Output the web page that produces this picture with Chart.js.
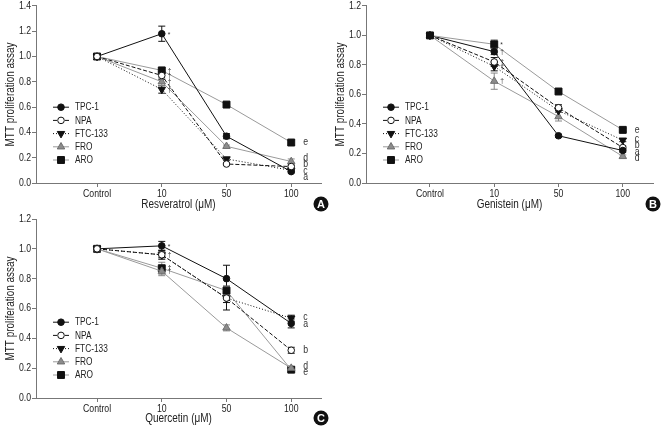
<!DOCTYPE html>
<html><head><meta charset="utf-8">
<script src="https://cdn.jsdelivr.net/npm/chart.js@4/dist/chart.umd.min.js"></script>
<style>
html,body{margin:0;padding:0;background:#fff;}
body{width:661px;height:426px;position:relative;overflow:hidden;}
.p{position:absolute;}
#pa{left:0;top:0;}
#pb{left:330px;top:0;}
#pc{left:0;top:212px;}
</style></head><body>
<div class="p" id="pa"><canvas id="ca" width="330" height="212"></canvas></div>
<div class="p" id="pb"><canvas id="cb" width="331" height="212"></canvas></div>
<div class="p" id="pc"><canvas id="cc" width="330" height="214"></canvas></div>
<script>
// ---------- data ----------
const categories = ['Control', '10', '50', '100'];
const seriesNames = ['TPC-1', 'NPA', 'FTC-133', 'FRO', 'ARO'];
const groupLetters = ['a', 'b', 'c', 'd', 'e'];
const yTicksA = [0.0, 0.2, 0.4, 0.6, 0.8, 1.0, 1.2, 1.4];
const yTicksBC = [0.0, 0.2, 0.4, 0.6, 0.8, 1.0, 1.2];

// A: Resveratrol
const resTPC1   = [1.00, 1.18, 0.37, 0.09];
const resNPA    = [1.00, 0.85, 0.15, 0.13];
const resFTC133 = [1.00, 0.74, 0.19, 0.10];
const resFRO    = [1.00, 0.80, 0.29, 0.17];
const resARO    = [1.00, 0.89, 0.62, 0.32];
const resTPC1Err   = [0, 0.06, 0.02, 0.01];
const resNPAErr    = [0, 0.03, 0.01, 0.01];
const resFTC133Err = [0, 0.03, 0.01, 0.01];
const resFROErr    = [0, 0.03, 0.01, 0.02];
const resAROErr    = [0, 0.02, 0.01, 0.02];
const resMarks10   = ['*', '†', '†', '†', '†'];

// B: Genistein
const genTPC1   = [1.00, 0.89, 0.32, 0.22];
const genNPA    = [1.00, 0.82, 0.51, 0.24];
const genFTC133 = [1.00, 0.79, 0.49, 0.29];
const genFRO    = [1.00, 0.69, 0.45, 0.18];
const genARO    = [1.00, 0.94, 0.62, 0.36];
const genTPC1Err   = [0, 0.02, 0.01, 0.01];
const genNPAErr    = [0, 0.03, 0.02, 0.01];
const genFTC133Err = [0, 0.03, 0.01, 0.01];
const genFROErr    = [0, 0.055, 0.03, 0.01];
const genAROErr    = [0, 0.03, 0.01, 0.01];
const genMarks10   = ['†', '†', '†', '†', '*'];

// C: Quercetin
const queTPC1   = [1.00, 1.02, 0.80, 0.50];
const queNPA    = [1.00, 0.96, 0.67, 0.32];
const queFTC133 = [1.00, 0.96, 0.67, 0.535];
const queFRO    = [1.00, 0.85, 0.47, 0.20];
const queARO    = [1.00, 0.87, 0.72, 0.19];
const queTPC1Err   = [0, 0.03, 0.09, 0.03];
const queNPAErr    = [0, 0.02, 0.03, 0.02];
const queFTC133Err = [0, 0.03, 0.08, 0.02];
const queFROErr    = [0, 0.03, 0.02, 0.01];
const queAROErr    = [0, 0.04, 0.03, 0.01];
const queMarks10   = ['*', '', '†', '†', '†'];

// ---------- styles ----------
const FONT = '"Liberation Sans",Arial,"DejaVu Sans",sans-serif';
const SQUEEZE = 0.83;
const BLACK = '#111', GRAY = '#9a9a9a', AXIS = '#777', TEXT = '#222';
const styles = [
  {line: BLACK, dash: [],     ps: 'circle',   r: 3.3, fill: BLACK,   stroke: BLACK,   rot: 0},
  {line: BLACK, dash: [4, 2], ps: 'circle',   r: 3.3, fill: '#fff',  stroke: BLACK,   rot: 0},
  {line: BLACK, dash: [1, 2], ps: 'triangle', r: 4.3, fill: BLACK,   stroke: BLACK,   rot: 180},
  {line: GRAY,  dash: [],     ps: 'triangle', r: 4.3, fill: '#8c8c8c', stroke: '#6e6e6e', rot: 0},
  {line: GRAY,  dash: [],     ps: 'rect',     r: 4.9, fill: BLACK,   stroke: BLACK,   rot: 0}
];

// narrow (condensed) text rendering: real text, horizontally compressed
function condense(canvas) {
  const ctx = canvas.getContext('2d');
  const orig = ctx.fillText.bind(ctx);
  ctx._plainFillText = orig;
  ctx.fillText = function (t, x, y) {
    this.save();
    this.translate(x, y);
    this.scale(SQUEEZE, 1);
    orig(t, 0, 0);
    this.restore();
  };
}

function drawMarker(ctx, st, x, y) {
  ctx.save();
  ctx.setLineDash([]);
  ctx.fillStyle = st.fill; ctx.strokeStyle = st.stroke; ctx.lineWidth = 1;
  ctx.beginPath();
  if (st.ps === 'circle') {
    ctx.arc(x, y, st.r, 0, Math.PI * 2);
  } else if (st.ps === 'triangle') {
    let a = st.rot * Math.PI / 180;
    for (let k = 0; k < 3; k++) {
      const px = x + Math.sin(a) * st.r, py = y - Math.cos(a) * st.r;
      if (k === 0) ctx.moveTo(px, py); else ctx.lineTo(px, py);
      a += 2 * Math.PI / 3;
    }
    ctx.closePath();
  } else {
    const s = Math.SQRT1_2 * st.r;
    ctx.rect(x - s, y - s, 2 * s, 2 * s);
  }
  ctx.fill(); ctx.stroke();
  ctx.restore();
}

function extrasPlugin(cfg) {
  return {
    id: 'extras',
    beforeDatasetsDraw(chart) {
      const ctx = chart.ctx, xs = chart.scales.x, ys = chart.scales.y;
      ctx.save();
      ctx.lineWidth = 1;
      cfg.errors.forEach((errs, i) => {
        ctx.strokeStyle = styles[i].line === GRAY ? '#888' : BLACK;
        errs.forEach((e, j) => {
          if (!e) return;
          const v = cfg.series[i][j];
          const x = xs.getPixelForValue(j + 1);
          const y1 = ys.getPixelForValue(v + e), y2 = ys.getPixelForValue(v - e);
          ctx.beginPath();
          ctx.moveTo(x, y1); ctx.lineTo(x, y2);
          ctx.moveTo(x - 3.5, y1); ctx.lineTo(x + 3.5, y1);
          ctx.moveTo(x - 3.5, y2); ctx.lineTo(x + 3.5, y2);
          ctx.stroke();
        });
      });
      ctx.restore();
    },
    afterDraw(chart) {
      const ctx = chart.ctx, xs = chart.scales.x, ys = chart.scales.y, ca = chart.chartArea;
      ctx.save();
      // marks at 10 uM
      ctx.fillStyle = '#333';
      ctx.font = '8px ' + FONT;
      ctx.textAlign = 'left'; ctx.textBaseline = 'middle';
      cfg.marks.forEach((m, i) => {
        if (!m) return;
        const x = xs.getPixelForValue(2) + 6;
        const y = ys.getPixelForValue(cfg.series[i][1]) + (m === '*' ? 1 : 0);
        ctx.fillText(m, x, y);
      });
      // group letters at last dose, de-overlapped
      const last = categories.length - 1;
      let items = cfg.series.map((s, i) => ({i, y0: ys.getPixelForValue(s[last])}));
      items.sort((a, b) => a.y0 - b.y0);
      const gap = 6.4;
      let clusters = items.map(it => ({members: [it], mean: it.y0}));
      let changed = true;
      const pos = c => { const n = c.members.length; return [c.mean - (n - 1) * gap / 2, c.mean + (n - 1) * gap / 2]; };
      while (changed) {
        changed = false;
        for (let k = 0; k < clusters.length - 1; k++) {
          const a = clusters[k], b = clusters[k + 1];
          if (pos(b)[0] - pos(a)[1] < gap) {
            const m = a.members.concat(b.members);
            clusters.splice(k, 2, {members: m, mean: m.reduce((s, t) => s + t.y0, 0) / m.length});
            changed = true; break;
          }
        }
      }
      ctx.font = '10.5px ' + FONT;
      ctx.fillStyle = '#333';
      const lx = xs.getPixelForValue(categories.length) + 14;
      clusters.forEach(c => {
        const top = pos(c)[0];
        c.members.forEach((it, k) => ctx.fillText(groupLetters[it.i], lx - 2, top + k * gap));
      });
      // legend
      ctx.font = '10px ' + FONT;
      ctx.fillStyle = TEXT;
      const lx0 = ca.left + 17, lx1 = ca.left + 33, tx = ca.left + 39;
      seriesNames.forEach((name, i) => {
        const y = ca.bottom - 23 - (seriesNames.length - 1 - i) * 13.2;
        const st = styles[i];
        ctx.save();
        ctx.strokeStyle = st.line; ctx.lineWidth = 1; ctx.setLineDash(st.dash);
        ctx.beginPath(); ctx.moveTo(lx0, y); ctx.lineTo(lx1, y); ctx.stroke();
        ctx.restore();
        drawMarker(ctx, st, (lx0 + lx1) / 2, y);
        ctx.fillText(name, tx, y + 0.5);
      });
      // badge
      ctx.beginPath();
      ctx.arc(ca.right, chart.height - 8, 7.5, 0, Math.PI * 2);
      ctx.fillStyle = '#111'; ctx.fill();
      ctx.fillStyle = '#fff';
      ctx.font = 'bold 11px "Liberation Sans",Arial,sans-serif';
      ctx.textAlign = 'center'; ctx.textBaseline = 'middle';
      ctx._plainFillText(cfg.badge, ca.right, chart.height - 7.5);
      ctx.restore();
    }
  };
}

function build(id, cfg) {
  const canvas = document.getElementById(id);
  condense(canvas);
  const H = canvas.height;
  const datasets = cfg.series.map((s, i) => ({
    label: seriesNames[i],
    data: s.map((v, j) => ({x: j + 1, y: v})),
    borderColor: styles[i].line,
    borderWidth: 1,
    borderDash: styles[i].dash,
    pointStyle: styles[i].ps,
    pointRadius: styles[i].r,
    pointRotation: styles[i].rot,
    pointBackgroundColor: styles[i].fill,
    pointBorderColor: styles[i].stroke,
    pointBorderWidth: 1,
    tension: 0, fill: false,
    order: i === cfg.topIndex ? -1 : 0
  }));
  new Chart(canvas, {
    type: 'line',
    data: {datasets},
    options: {
      responsive: false, animation: false, events: [],
      layout: {padding: {top: cfg.padTop, right: cfg.padRight, left: 0, bottom: 0}},
      plugins: {legend: {display: false}, tooltip: {enabled: false}},
      scales: {
        x: {
          type: 'linear', min: cfg.xMin, max: cfg.xMax,
          afterBuildTicks: s => { s.ticks = categories.map((c, i) => ({value: i + 1})); },
          afterFit: s => { s.height = H - cfg.plotBottom; s.paddingLeft = 0; s.paddingRight = 0; },
          ticks: {autoSkip: false, maxRotation: 0, padding: 1, color: TEXT,
                  font: {family: FONT, size: 10.5},
                  callback: v => categories[Math.round(v) - 1]},
          grid: {display: true, drawOnChartArea: false, drawTicks: true, tickLength: 4, color: AXIS},
          border: {display: true, color: AXIS, width: 1},
          title: {display: true, text: cfg.xTitle, color: TEXT,
                  font: {family: FONT, size: 12}, padding: {top: 0, bottom: 0}}
        },
        y: {
          type: 'linear', min: 0, max: cfg.yTicks[cfg.yTicks.length - 1],
          afterBuildTicks: s => { s.ticks = cfg.yTicks.map(v => ({value: v})); },
          afterFit: s => { s.width = 36; s.paddingTop = 0; s.paddingBottom = 0; },
          ticks: {padding: 1, color: TEXT, font: {family: FONT, size: 10.5},
                  callback: v => Number(v).toFixed(1)},
          grid: {display: true, drawOnChartArea: false, drawTicks: true, tickLength: 4, color: AXIS},
          border: {display: true, color: AXIS, width: 1},
          title: {display: true, text: 'MTT proliferation assay', color: TEXT,
                  font: {family: FONT, size: 12}, padding: {top: 3, bottom: 0}}
        }
      }
    },
    plugins: [extrasPlugin(cfg)]
  });
}

build('ca', {
  series: [resTPC1, resNPA, resFTC133, resFRO, resARO],
  errors: [resTPC1Err, resNPAErr, resFTC133Err, resFROErr, resAROErr],
  marks: resMarks10, yTicks: yTicksA, xTitle: 'Resveratrol (μM)', badge: 'A',
  xMin: 0.057, xMax: 4.46, padTop: 5, padRight: 9, plotBottom: 183, topIndex: 1
});
build('cb', {
  series: [genTPC1, genNPA, genFTC133, genFRO, genARO],
  errors: [genTPC1Err, genNPAErr, genFTC133Err, genFROErr, genAROErr],
  marks: genMarks10, yTicks: yTicksBC, xTitle: 'Genistein (μM)', badge: 'B',
  xMin: 0.005, xMax: 4.47, padTop: 4, padRight: 8, plotBottom: 183, topIndex: 4
});
build('cc', {
  series: [queTPC1, queNPA, queFTC133, queFRO, queARO],
  errors: [queTPC1Err, queNPAErr, queFTC133Err, queFROErr, queAROErr],
  marks: queMarks10, yTicks: yTicksBC, xTitle: 'Quercetin (μM)', badge: 'C',
  xMin: 0.057, xMax: 4.46, padTop: 7, padRight: 9, plotBottom: 186, topIndex: 1
});
</script>
</body></html>
